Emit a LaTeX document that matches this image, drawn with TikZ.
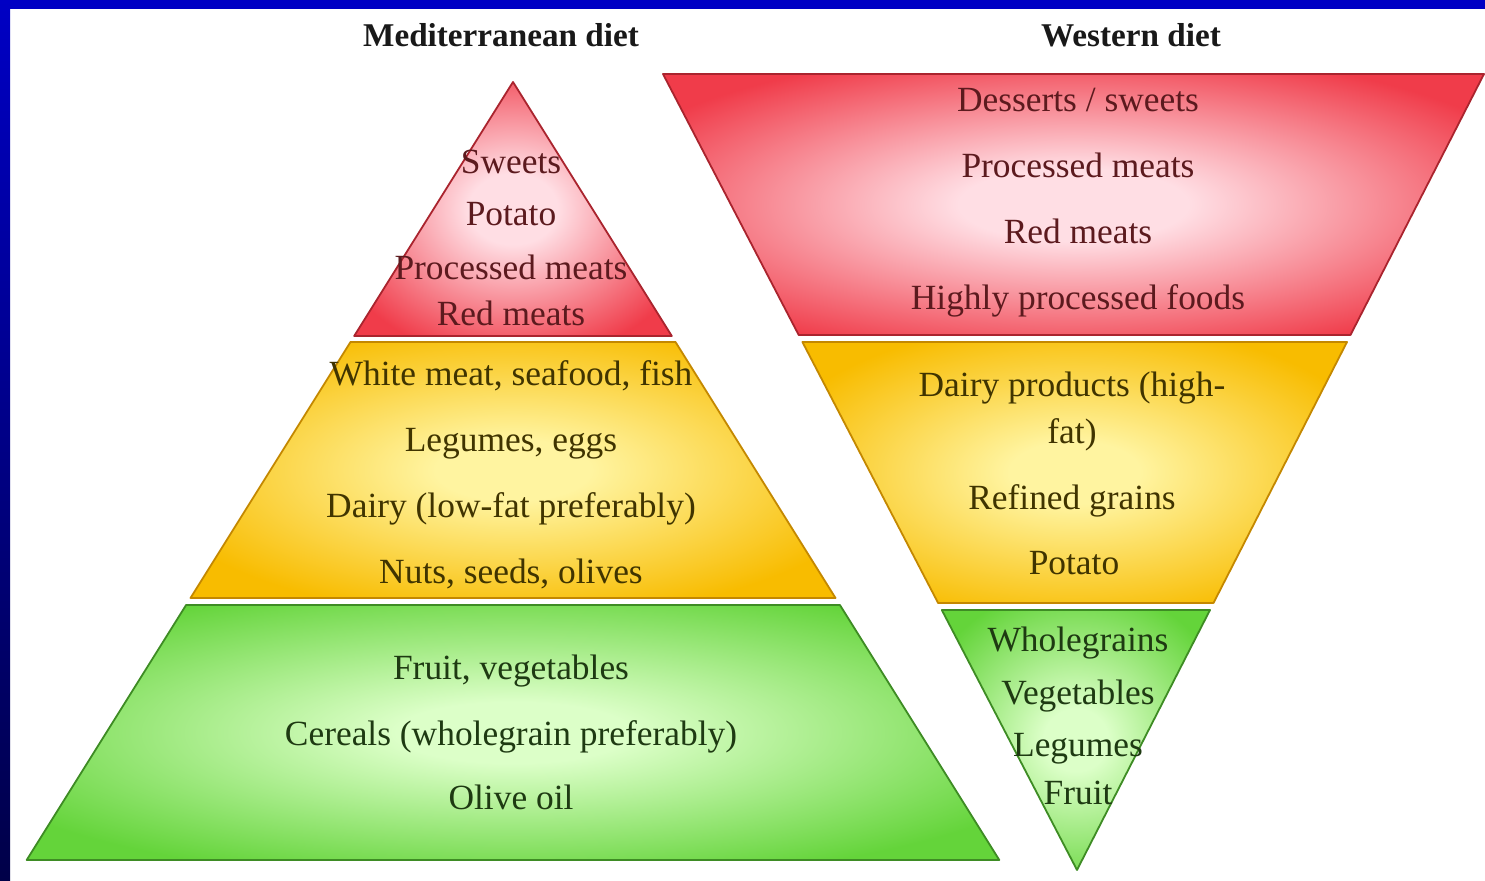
\documentclass[tikz,border=0pt]{standalone}
\usepackage{fontspec}
\setmainfont{Liberation Serif}
\definecolor{frameblue}{RGB}{0,0,196}
\definecolor{framenavy}{RGB}{0,0,72}
\definecolor{redin}{RGB}{255,222,228}
\definecolor{redout}{RGB}{240,60,74}
\definecolor{redline}{RGB}{170,36,46}
\definecolor{yellowin}{RGB}{255,244,160}
\definecolor{yellowout}{RGB}{248,188,0}
\definecolor{yellowline}{RGB}{196,136,0}
\definecolor{greenin}{RGB}{220,255,200}
\definecolor{greenout}{RGB}{100,212,58}
\definecolor{greenline}{RGB}{62,140,36}
\definecolor{redtext}{RGB}{92,26,30}
\definecolor{yellowtext}{RGB}{64,52,0}
\definecolor{greentext}{RGB}{30,58,18}
\pgfdeclareradialshading{redglow}{\pgfpoint{0bp}{0bp}}{color(0bp)=(redin); color(7bp)=(redin); color(30bp)=(redout); color(50bp)=(redout)}
\pgfdeclareradialshading{yellowglow}{\pgfpoint{0bp}{0bp}}{color(0bp)=(yellowin); color(6bp)=(yellowin); color(29bp)=(yellowout); color(50bp)=(yellowout)}
\pgfdeclareradialshading{greenglow}{\pgfpoint{0bp}{0bp}}{color(0bp)=(greenin); color(6bp)=(greenin); color(30bp)=(greenout); color(50bp)=(greenout)}
\tikzset{
  redtier/.style={shade, shading=redglow, draw=redline, line width=0.9pt, line join=round},
  yellowtier/.style={shade, shading=yellowglow, draw=yellowline, line width=0.9pt, line join=round},
  greentier/.style={shade, shading=greenglow, draw=greenline, line width=0.9pt, line join=round},
  item/.style={anchor=base, inner sep=0pt, font=\fontsize{17.7}{20}\selectfont},
  heading/.style={anchor=base, inner sep=0pt, font=\fontsize{16.6}{19}\selectfont\bfseries, text=black!90}
}

\begin{document}
\begin{tikzpicture}[x=0.5pt, y=-0.5pt]
  \useasboundingbox (0,0) rectangle (1485,881);
  \fill[white] (0,0) rectangle (1485,881);
  % frame
  \fill[frameblue] (0,0) rectangle (1485,9);
  \shade[top color=frameblue, bottom color=framenavy] (0,0) rectangle (10,881);

  % Mediterranean pyramid
  \path[redtier] (513,82) -- (671.8,336) -- (354.2,336) -- cycle;
  \path[yellowtier] (350.5,342) -- (675.5,342) -- (835.5,598) -- (190.5,598) -- cycle;
  \path[greentier] (186.1,605) -- (839.9,605) -- (999.3,860) -- (26.7,860) -- cycle;

  % Western inverted pyramid
  \path[redtier] (663,74) -- (1484,74) -- (1350.5,335) -- (798.7,335) -- cycle;
  \path[yellowtier] (802.4,342) -- (1347,342) -- (1213.5,603) -- (938.1,603) -- cycle;
  \path[greentier] (941.8,610) -- (1210,610) -- (1077,870) -- cycle;

  \node[heading] (medtitle) at (501,47) {Mediterranean diet};
  \node[heading] (westtitle) at (1131,47) {Western diet};

  \node[item, text=redtext] (msweets) at (511,174) {Sweets};
  \node[item, text=redtext] (mpotato) at (511,226) {Potato};
  \node[item, text=redtext] (mprocessed) at (511,280) {Processed meats};
  \node[item, text=redtext] (mred) at (511,326) {Red meats};

  \node[item, text=yellowtext] (mwhite) at (511,386) {White meat, seafood, fish};
  \node[item, text=yellowtext] (mlegumes) at (511,452) {Legumes, eggs};
  \node[item, text=yellowtext] (mdairy) at (511,518) {Dairy (low-fat preferably)};
  \node[item, text=yellowtext] (mnuts) at (511,584) {Nuts, seeds, olives};

  \node[item, text=greentext] (mfruit) at (511,680) {Fruit, vegetables};
  \node[item, text=greentext] (mcereals) at (511,746) {Cereals (wholegrain preferably)};
  \node[item, text=greentext] (moil) at (511,810) {Olive oil};

  \node[item, text=redtext] (wdesserts) at (1078,112) {Desserts / sweets};
  \node[item, text=redtext] (wprocessed) at (1078,178) {Processed meats};
  \node[item, text=redtext] (wred) at (1078,244) {Red meats};
  \node[item, text=redtext] (whighly) at (1078,310) {Highly processed foods};

  \node[item, text=yellowtext] (wdairy) at (1072,397) {Dairy products (high-};
  \node[item, text=yellowtext] (wfat) at (1072,444) {fat)};
  \node[item, text=yellowtext] (wrefined) at (1072,510) {Refined grains};
  \node[item, text=yellowtext] (wpotato) at (1074,575) {Potato};

  \node[item, text=greentext] (wwhole) at (1078,652) {Wholegrains};
  \node[item, text=greentext] (wveg) at (1078,705) {Vegetables};
  \node[item, text=greentext] (wlegumes) at (1078,757) {Legumes};
  \node[item, text=greentext] (wfruit) at (1078,805) {Fruit};
\end{tikzpicture}
\end{document}
